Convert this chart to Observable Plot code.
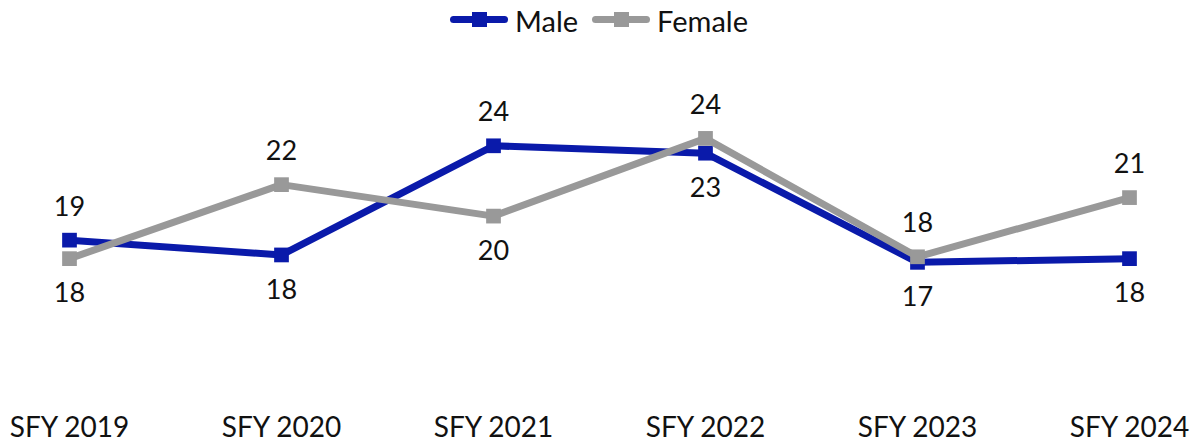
<!DOCTYPE html>
<html>
<head>
<meta charset="utf-8">
<script src="https://cdn.jsdelivr.net/npm/d3@7"></script>
<script src="https://cdn.jsdelivr.net/npm/@observablehq/plot@0.6"></script>
<style>
  body { margin: 0; background: #fff; font-family: Lato, sans-serif; }
  #legend { height: 40px; display: flex; justify-content: center; align-items: center; gap: 14px; font-size: 29px; color: #111; padding-right: 1px; box-sizing: border-box; }
  .item { display: flex; align-items: center; gap: 7px; }
  .sw { position: relative; width: 58px; height: 16px; }
  .sw .ln { position: absolute; left: 0; right: 0; top: 4px; height: 7px; border-radius: 3.5px; }
  .sw .sq { position: absolute; left: 22px; top: 0px; width: 15px; height: 15px; }
</style>
</head>
<body>
<div id="legend"></div>
<div id="chart"></div>
<script>
const years = ["SFY 2019", "SFY 2020", "SFY 2021", "SFY 2022", "SFY 2023", "SFY 2024"];
const male = [18.6, 17.8, 23.7, 23.3, 17.4, 17.6];
const female = [17.6, 21.6, 19.9, 24.1, 17.7, 20.9];
const seriesNames = ["Male", "Female"];
const seriesColors = ["#0A1AAA", "#999999"];

const rows = [];
years.forEach((yr, i) => {
  rows.push({year: yr, series: "Male", value: male[i], other: female[i]});
  rows.push({year: yr, series: "Female", value: female[i], other: male[i]});
});
rows.forEach(d => { d.label = String(Math.round(d.value)); d.above = d.value >= d.other; });

// legend
const legend = document.getElementById("legend");
seriesNames.forEach((n, i) => {
  const it = document.createElement("div");
  it.className = "item";
  it.innerHTML = `<div class="sw"><div class="ln" style="background:${seriesColors[i]}"></div><div class="sq" style="background:${seriesColors[i]}"></div></div><span>${n}</span>`;
  legend.appendChild(it);
});

const color = {domain: seriesNames, range: seriesColors};
const chart = Plot.plot({
  width: 1199,
  height: 404,
  marginLeft: 68,
  marginRight: 69,
  marginTop: 0,
  marginBottom: 30,
  style: {fontFamily: "Lato, sans-serif", background: "#fff", color: "#111"},
  x: {domain: years, padding: 0, label: null},
  y: {domain: [17.5, 23.5], range: [220, 109], axis: null},
  color,
  marks: [
    Plot.axisX({tickSize: 0, tickPadding: 3, fontSize: 28, label: null}),
    Plot.line(rows.filter(d => d.series === "Male"), {x: "year", y: "value", stroke: seriesColors[0], strokeWidth: 7}),
    Plot.dot(rows.filter(d => d.series === "Male"), {x: "year", y: "value", symbol: "square", r: 8.3, fill: seriesColors[0], stroke: "none"}),
    Plot.line(rows.filter(d => d.series === "Female"), {x: "year", y: "value", stroke: seriesColors[1], strokeWidth: 7}),
    Plot.dot(rows.filter(d => d.series === "Female"), {x: "year", y: "value", symbol: "square", r: 8.3, fill: seriesColors[1], stroke: "none"}),
    Plot.text(rows.filter(d => d.above), {x: "year", y: "value", text: "label", dy: -33, fontSize: 27, fill: "#111", lineAnchor: "middle"}),
    Plot.text(rows.filter(d => !d.above), {x: "year", y: "value", text: "label", dy: 35, fontSize: 27, fill: "#111", lineAnchor: "middle"})
  ]
});
document.getElementById("chart").appendChild(chart);
</script>
</body>
</html>
